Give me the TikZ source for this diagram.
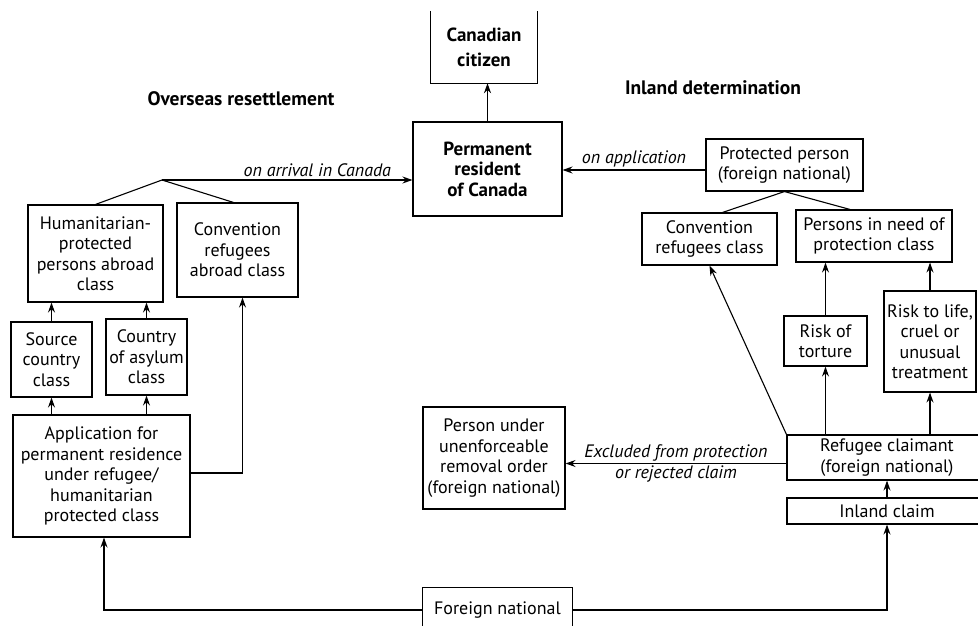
\documentclass[tikz,border=0pt]{standalone}
\usepackage{fontspec}
\setmainfont{PT Sans}
\usetikzlibrary{arrows.meta}
\begin{document}
\begin{tikzpicture}[x=1pt,y=-1pt,
  bx/.style={draw, line width=1.1pt, align=center, inner sep=0pt, font=\fontsize{18}{20.5}\selectfont},
  tx/.style={align=center, inner sep=0pt, font=\fontsize{18}{20.5}\selectfont},
  ln/.style={line width=1.1pt},
  arr/.style={line width=1.1pt, -{Stealth[length=10pt,width=7pt]}},
  lab/.style={font=\fontsize{18}{20}\selectfont\itshape, inner sep=2.5pt},
  ttl/.style={font=\fontsize{19.5}{22}\selectfont\bfseries, inner sep=0pt}]
\useasboundingbox (0,0) rectangle (978,626);
% titles
\node[ttl] (t1) at (241,99) {Overseas resettlement};
\node[ttl] (t2) at (713,88) {Inland determination};
% centre
\node[tx, font=\fontsize{19}{25}\selectfont\bfseries, minimum width=106pt, minimum height=72pt] (cit) at (484,47) {Canadian\\citizen};
\draw[ln] (cit.north west) -- (cit.south west) -- (cit.south east) -- (cit.north east);
\node[bx, font=\fontsize{19}{20.5}\selectfont\bfseries, minimum width=149pt, minimum height=94pt] (pr) at (487.5,169) {Permanent\\resident\\of Canada};
% overseas
\node[bx, minimum width=135pt, minimum height=97pt] (hum) at (95.5,253.5) {Humanitarian-\\protected\\persons abroad\\class};
\node[bx, minimum width=121pt, minimum height=94pt] (cab) at (237.5,250) {Convention\\refugees\\abroad class};
\node[bx, minimum width=81pt, minimum height=75pt] (src) at (51.5,359.5) {Source\\country\\class};
\node[bx, minimum width=81pt, minimum height=76pt] (asy) at (146.5,357) {Country\\of asylum\\class};
\node[bx, minimum width=177pt, minimum height=122pt] (app) at (101.5,476) {Application for\\permanent residence\\under refugee/\\humanitarian\\protected class};
\node[tx, minimum width=149pt, minimum height=44pt] (fn) at (497.5,610) {Foreign national};
\draw[ln] (fn.south west) -- (fn.north west) -- (fn.north east) -- (fn.south east);
\coordinate (j) at (162,180);
% inland
\node[bx, minimum width=157pt, minimum height=52pt] (pp) at (784.5,165) {Protected person\\(foreign national)};
\node[bx, minimum width=135pt, minimum height=52pt] (crc) at (709.5,239) {Convention\\refugees class};
\node[bx, minimum width=156pt, minimum height=52pt] (pin) at (874,236) {Persons in need of\\protection class};
\node[bx, minimum width=83pt, minimum height=50pt] (rot) at (825.5,341) {Risk of\\torture};
\node[bx, minimum width=92pt, minimum height=101pt] (rtl) at (930,341.5) {Risk to life,\\cruel or\\unusual\\treatment};
\node[bx, minimum width=200pt, minimum height=45pt] (rc) at (887,457.5) {Refugee claimant\\(foreign national)};
\node[bx, minimum width=200pt, minimum height=26pt] (inl) at (887,511) {Inland claim};
\node[bx, minimum width=142pt, minimum height=102pt] (per) at (494,458) {Person under\\unenforceable\\removal order\\(foreign national)};
% connectors
\draw[arr] (pr.north) -- (pr.north |- cit.south);
\draw[ln] (hum.north) -- (j) -- ([xshift=-4pt]cab.north);
\draw[arr] (j) -- (j -| pr.west) node[lab, pos=0.62, above] {on arrival in Canada};
\draw[arr] (src.north) -- (src.north |- hum.south);
\draw[arr] (asy.north) -- (asy.north |- hum.south);
\draw[arr] (app.north -| src.south) -- (src.south);
\draw[arr] (app.north -| asy.south) -- (asy.south);
\draw[arr] ([yshift=3pt]app.east) -| ([xshift=5pt]cab.south);
\draw[arr] (fn.west) -| ([xshift=2.5pt]app.south);
\draw[arr] (fn.east) -| (inl.south);
\draw[arr] (inl.north) -- (rc.south);
\draw[arr] ([yshift=-5pt]pp.west) -- ([yshift=-5pt]pp.west -| pr.east) node[lab, midway, above] {on application};
\draw[ln] ([xshift=13pt]crc.north) -- (pp.south) -- ([xshift=-24pt]pin.north);
\draw[arr] (rc.north west) -- (crc.south);
\draw[arr] (rc.north -| rot.south) -- (rot.south);
\draw[arr] (rot.north) -- (rot.north |- pin.south);
\draw[arr] (rc.north -| rtl.south) -- (rtl.south);
\draw[arr] (rtl.north) -- (rtl.north |- pin.south);
\draw[arr] ([yshift=-6pt]rc.west) -- ([yshift=-6pt]rc.west -| per.east)
  node[lab, midway, above, inner sep=1.5pt] {Excluded from protection}
  node[lab, midway, below, inner sep=1.5pt] {or rejected claim};
\end{tikzpicture}
\end{document}
